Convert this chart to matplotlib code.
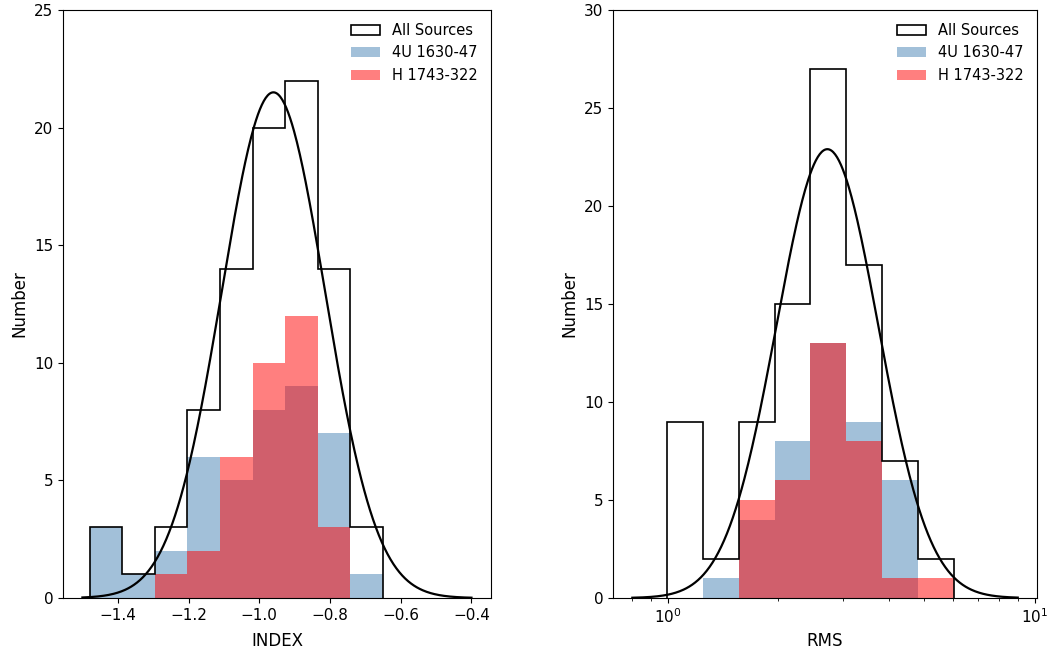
import numpy as np
import matplotlib
matplotlib.use("Agg")
import matplotlib.pyplot as plt

# ---- data: INDEX panel ----
index_edges = np.linspace(-1.479, -0.651, 10)
index_all = [3, 1, 3, 8, 14, 20, 22, 14, 3]
index_4u = [3, 1, 2, 6, 5, 8, 9, 7, 1]
index_h = [0, 0, 1, 2, 6, 10, 12, 3, 0]
index_fit = dict(amp=21.5, mu=-0.96, sigma=0.146, lo=-1.5, hi=-0.4)

# ---- data: RMS panel (log10 bins) ----
rms_log_edges = np.linspace(-0.003, 0.781, 9)
rms_all = [9, 2, 9, 15, 27, 17, 7, 2]
rms_4u = [0, 1, 4, 8, 13, 9, 6, 0]
rms_h = [0, 0, 5, 6, 13, 8, 1, 1]
rms_fit = dict(amp=22.9, mu=0.435, sigma=0.139, lo=0.8, hi=9.0)

labels = ["All Sources", "4U 1630-47", "H 1743-322"]

plt.rcParams['font.size'] = 11

fig = plt.figure(figsize=(10.51, 6.55), dpi=100)
ax1 = fig.add_axes([0.0599, 0.0870, 0.4072, 0.8977])
ax2 = fig.add_axes([0.5833, 0.0870, 0.4034, 0.8977])

# Left panel
c1 = 0.5 * (index_edges[:-1] + index_edges[1:])
ax1.hist(c1, bins=index_edges, weights=index_all, histtype='step', color='k', lw=1.2, label=labels[0])
ax1.hist(c1, bins=index_edges, weights=index_4u, color='steelblue', alpha=0.5, label=labels[1])
ax1.hist(c1, bins=index_edges, weights=index_h, color='red', alpha=0.5, label=labels[2])
xg = np.linspace(index_fit['lo'], index_fit['hi'], 400)
ax1.plot(xg, index_fit['amp'] * np.exp(-0.5 * ((xg - index_fit['mu']) / index_fit['sigma'])**2), 'k-', lw=1.6)
ax1.set_ylim(0, 25)
ax1.set_xticks([-1.4, -1.2, -1.0, -0.8, -0.6, -0.4])
ax1.set_xlabel("INDEX", fontsize=12, labelpad=7)
ax1.set_ylabel("Number", fontsize=12)
ax1.legend(loc='upper right', frameon=False, fontsize=10.5)

# Right panel
edges2 = 10**rms_log_edges
c2 = 10**(0.5 * (rms_log_edges[:-1] + rms_log_edges[1:]))
ax2.hist(c2, bins=edges2, weights=rms_all, histtype='step', color='k', lw=1.2, label=labels[0])
ax2.hist(c2, bins=edges2, weights=rms_4u, color='steelblue', alpha=0.5, label=labels[1])
ax2.hist(c2, bins=edges2, weights=rms_h, color='red', alpha=0.5, label=labels[2])
xr = np.logspace(np.log10(rms_fit['lo']), np.log10(rms_fit['hi']), 400)
ax2.plot(xr, rms_fit['amp'] * np.exp(-0.5 * ((np.log10(xr) - rms_fit['mu']) / rms_fit['sigma'])**2), 'k-', lw=1.6)
ax2.set_xscale('log')
ax2.set_ylim(0, 30)
ax2.set_xlabel("RMS", fontsize=12)
ax2.set_ylabel("Number", fontsize=12)
ax2.legend(loc='upper right', frameon=False, fontsize=10.5)

fig.savefig("out.png", dpi=100)
